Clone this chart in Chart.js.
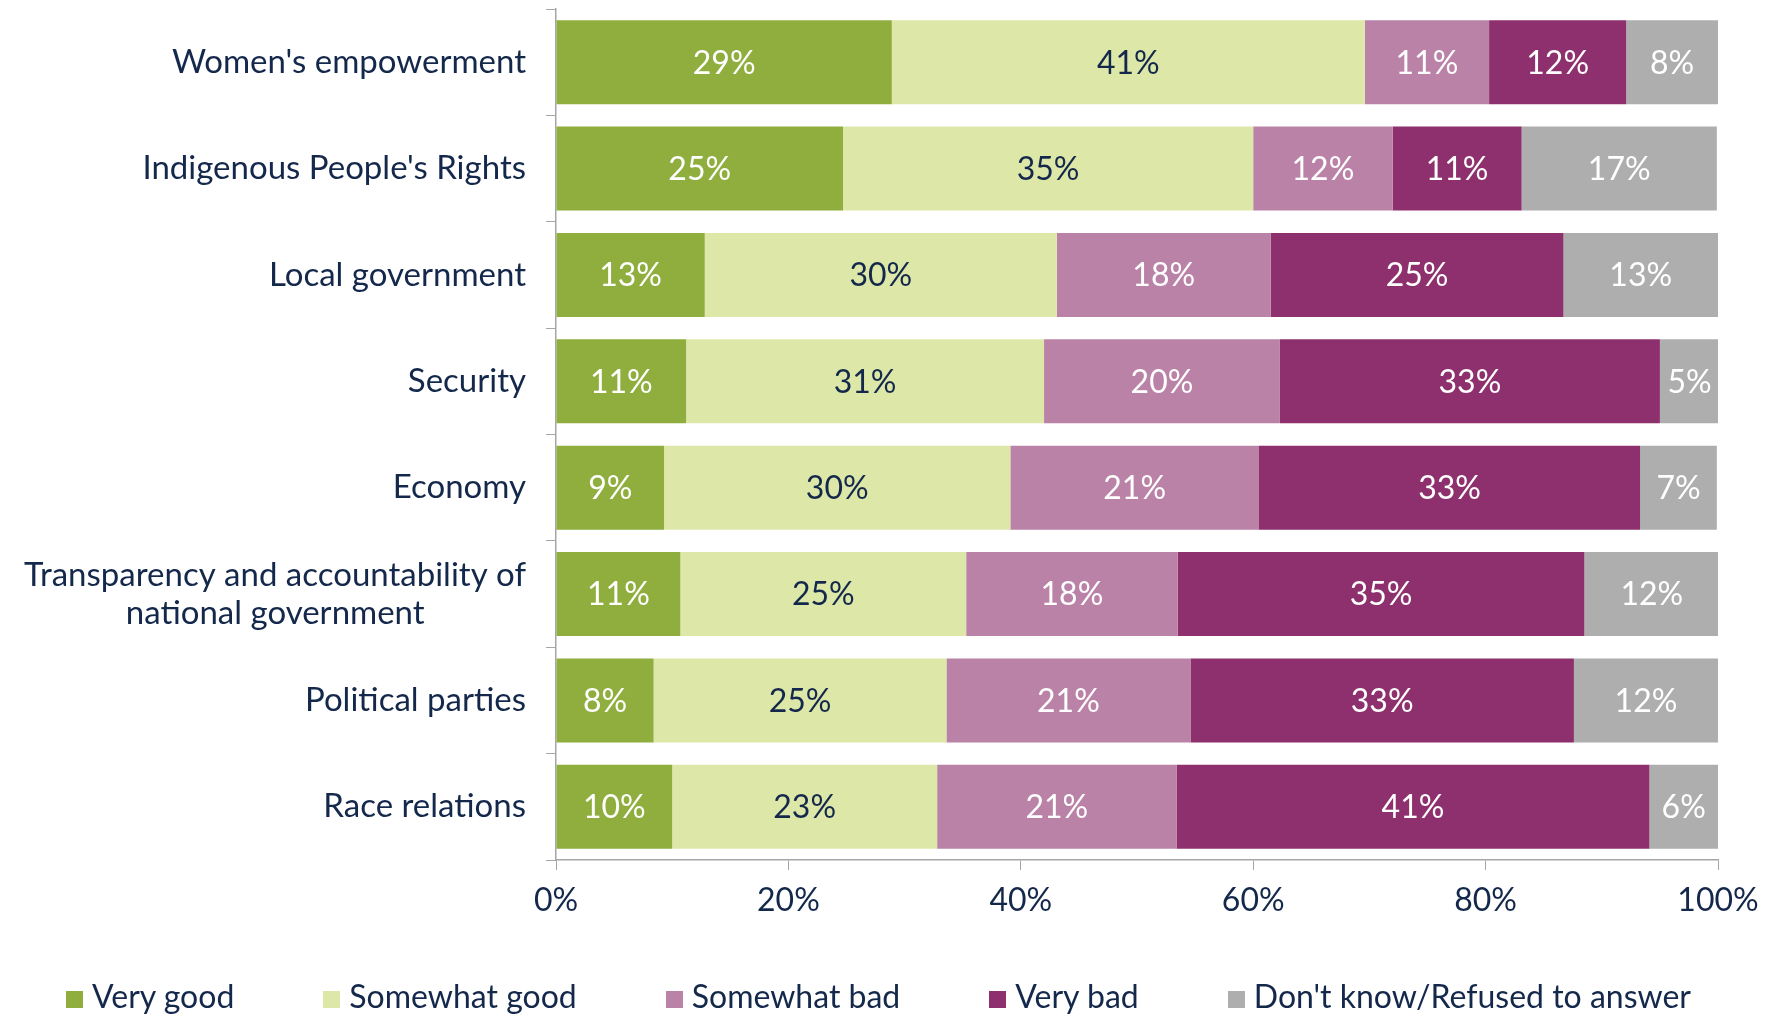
<!DOCTYPE html>
<html>
<head>
<meta charset="utf-8">
<script src="https://cdn.jsdelivr.net/npm/chart.js@4.4.1/dist/chart.umd.min.js"></script>
<style>
  html, body { margin: 0; padding: 0; background: #ffffff; }
  #wrap { position: relative; width: 1775px; height: 1018px; overflow: hidden; }
  #c { position: absolute; left: 0; top: 0; }
  #legend { position: absolute; left: 66px; top: 976px; display: flex; font-family: Lato, sans-serif; font-size: 32px; color: #14284b; white-space: nowrap; }
  #legend .item { margin-right: 89px; }
  #legend .box { display: inline-block; width: 17px; height: 17px; margin-right: 9px; vertical-align: baseline; }
</style>
</head>
<body>
<div id="wrap">
  <canvas id="c" width="1775" height="1018"></canvas>
  <div id="legend"></div>
</div>
<script>
const categories = [
  "Women's empowerment",
  "Indigenous People's Rights",
  "Local government",
  "Security",
  "Economy",
  ["Transparency and accountability of", "national government"],
  "Political parties",
  "Race relations"
];
const seriesNames = ["Very good", "Somewhat good", "Somewhat bad", "Very bad", "Don't know/Refused to answer"];
const seriesColors = ["#8fae3e", "#dde8a8", "#bb82a8", "#8e306d", "#aeaeae"];
const labelColors = ["#ffffff", "#14284b", "#ffffff", "#ffffff", "#ffffff"];

const veryGood     = [28.9, 24.7, 12.8, 11.2,  9.3, 10.7,  8.4, 10.0];
const somewhatGood = [40.7, 35.3, 30.3, 30.8, 29.8, 24.6, 25.2, 22.8];
const somewhatBad  = [10.7, 12.0, 18.4, 20.3, 21.4, 18.2, 21.0, 20.6];
const veryBad      = [11.8, 11.1, 25.2, 32.7, 32.8, 35.0, 33.0, 40.7];
const dontKnow     = [ 7.9, 16.8, 13.3,  5.1,  6.6, 11.6, 12.4,  5.9];

const xTicks = [0, 20, 40, 60, 80, 100];

const seriesValues = [veryGood, somewhatGood, somewhatBad, veryBad, dontKnow];
const FONT = "Lato, sans-serif";
const NAVY = "#14284b";
const AXIS = "#a6a6a6";
const CAT_SIZE = 33;

// center the second line of the multi-line label under the first
(function () {
  const m = document.createElement('canvas').getContext('2d');
  m.font = CAT_SIZE + "px " + FONT;
  categories.forEach((c, i) => {
    if (Array.isArray(c)) {
      const w1 = m.measureText(c[0]).width;
      const w2 = m.measureText(c[1]).width;
      const ws = m.measureText(' ').width;
      const n = Math.max(0, Math.round(((w1 - w2) / 2) / ws));
      categories[i] = [c[0], c[1] + ' '.repeat(n)];
    }
  });
})();

const barLabels = {
  id: 'barLabels',
  afterDatasetsDraw(chart) {
    const ctx = chart.ctx;
    ctx.save();
    ctx.font = "32px " + FONT;
    ctx.textAlign = 'center';
    ctx.textBaseline = 'middle';
    chart.data.datasets.forEach((ds, di) => {
      const meta = chart.getDatasetMeta(di);
      meta.data.forEach((el, i) => {
        const p = el.getProps(['x', 'y', 'base'], true);
        ctx.fillStyle = labelColors[di];
        ctx.fillText(Math.round(ds.data[i]) + '%', (p.x + p.base) / 2, p.y + 1);
      });
    });
    ctx.restore();
  }
};

new Chart(document.getElementById('c'), {
  type: 'bar',
  data: {
    labels: categories,
    datasets: seriesNames.map((n, i) => ({
      label: n,
      data: seriesValues[i],
      backgroundColor: seriesColors[i],
      borderWidth: 0,
      categoryPercentage: 1.0,
      barPercentage: 0.79
    }))
  },
  options: {
    indexAxis: 'y',
    responsive: false,
    animation: false,
    devicePixelRatio: 1,
    layout: { padding: { top: 9, right: 57, bottom: 99, left: 0 } },
    plugins: { legend: { display: false }, tooltip: { enabled: false } },
    scales: {
      x: {
        stacked: true,
        min: 0, max: 100,
        afterBuildTicks: (s) => { s.ticks = xTicks.map(v => ({ value: v })); },
        afterFit: (s) => { s.height = 59; s.paddingLeft = 0; s.paddingRight = 0; },
        ticks: { callback: v => v + '%', color: NAVY, font: { family: FONT, size: 32 }, padding: 11, maxRotation: 0 },
        grid: { drawOnChartArea: false, drawTicks: true, tickLength: 10, color: AXIS },
        border: { color: AXIS, width: 1.5 }
      },
      y: {
        stacked: true,
        afterFit: (s) => { s.width = 556; s.paddingTop = 0; s.paddingBottom = 0; },
        ticks: { color: NAVY, font: { family: FONT, size: CAT_SIZE, lineHeight: 1.15 }, padding: 20, autoSkip: false },
        grid: { drawOnChartArea: false, drawTicks: true, tickLength: 10, color: AXIS, offset: true },
        border: { color: AXIS, width: 1.5 }
      }
    }
  },
  plugins: [barLabels]
});

const leg = document.getElementById('legend');
seriesNames.forEach((n, i) => {
  const it = document.createElement('span');
  it.className = 'item';
  const b = document.createElement('span');
  b.className = 'box';
  b.style.background = seriesColors[i];
  it.appendChild(b);
  it.appendChild(document.createTextNode(n));
  if (i === seriesNames.length - 1) it.style.marginRight = '0';
  leg.appendChild(it);
});
</script>
</body>
</html>
